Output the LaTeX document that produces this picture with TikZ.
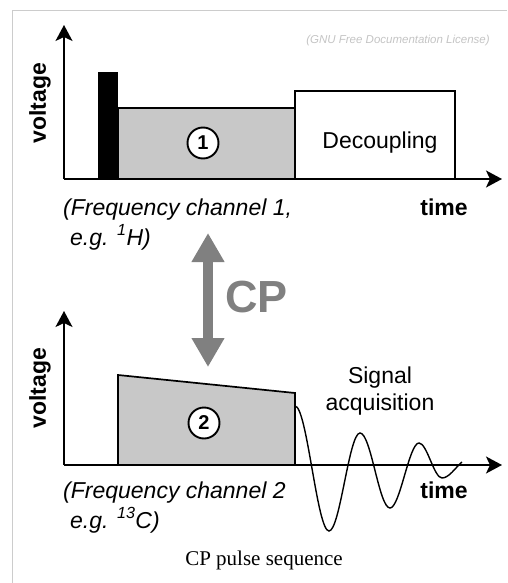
\documentclass[tikz,border=0pt]{standalone}
\usepackage{fontspec}
\setmainfont{Liberation Serif}
\setsansfont{Liberation Sans}
\usepackage{xcolor}
\definecolor{CPgray}{HTML}{808080}
\definecolor{CPfill}{HTML}{C8C8C8}
\definecolor{CPframe}{HTML}{CCCCCC}
\definecolor{CPnote}{HTML}{C4C4C4}
\usepackage{tikz}
\usetikzlibrary{positioning,arrows.meta}

\begin{document}
\begin{tikzpicture}[
  x=1pt, y=-1pt,
  axis/.style={-{Stealth[length=16pt,width=17pt,inset=4pt]}, line width=1.7pt},
  pulse/.style={draw=black, line width=1.7pt},
  lbl/.style={font=\sffamily\fontsize{23}{28}\selectfont, inner sep=0pt},
  bold/.style={font=\sffamily\bfseries\fontsize{23}{28}\selectfont, inner sep=0pt},
  chan/.style={font=\sffamily\itshape\fontsize{23}{28}\selectfont, inner sep=0pt, anchor=base west},
  num/.style={circle, draw, line width=1.9pt, fill=white, minimum size=31pt, inner sep=0pt,
    font=\sffamily\bfseries\fontsize{20}{20}\selectfont},
  cparrow/.style={{Triangle[length=29pt,width=31pt]}-{Triangle[length=29pt,width=31pt]},
    line width=10pt, draw=CPgray},
  note/.style={font=\sffamily\itshape\fontsize{11.5}{12}\selectfont, text=CPnote, inner sep=0pt}
]
\useasboundingbox (0,0) rectangle (507,583);
\draw[CPframe, line width=1pt] (12.5,583) |- (507,10.5);

\coordinate (oA) at (64,179);
\coordinate (yA) at (64,25);
\coordinate (xA) at (502,179);
\coordinate (oB) at (64,465);
\coordinate (yB) at (64,311);
\coordinate (xB) at (502,465);
\coordinate (cpTop) at (208,233);
\coordinate (cpBot) at (208,367);

\fill[black] (98,72) rectangle (118,179);
\draw[pulse, fill=CPfill] (118,108) rectangle (295,179);
\draw[pulse, fill=white] (295,91) rectangle (455,179);
\draw[pulse, fill=CPfill] (118,465) -- (118,375) -- (295,393) -- (295,465);
\draw[line width=1.4pt] (295,406) .. controls (307,406) and (317,531) .. (329,531)
  .. controls (340,531) and (349,433) .. (360,433)
  .. controls (371,433) and (379,508) .. (390,508)
  .. controls (400,508) and (409,443) .. (419,443)
  .. controls (427,443) and (434,478) .. (442,478)
  .. controls (449,478) and (455,468) .. (462,462);

\draw[axis] (oA) -- (yA);
\draw[axis] (oA) -- (xA);
\draw[axis] (oB) -- (yB);
\draw[axis] (oB) -- (xB);
\draw[cparrow] (cpTop) -- (cpBot);

\node[num] (n1) at (203,143) {1};
\node[num] (n2) at (204,423) {2};
\node[lbl, anchor=base] (dec) at (380,148) {Decoupling};
\node[lbl, anchor=base] (sig) at (380,383) {Signal};
\node[lbl, anchor=base] (acq) at (380,410) {acquisition};
\node[bold, rotate=90] (voltA) at (40,103) {voltage};
\node[bold, rotate=90] (voltB) at (40,388) {voltage};
\node[bold, anchor=base] (timeA) at (444,215) {time};
\node[bold, anchor=base] (timeB) at (444,498) {time};
\node[chan] (chA) at (63,215) {(Frequency channel 1,};
\node[chan] (egA) at (70,245) {e.g. \textsuperscript{1}H)};
\node[chan] (chB) at (63,498) {(Frequency channel 2};
\node[chan] (egB) at (70,528) {e.g. \textsuperscript{13}C)};
\node[font=\sffamily\bfseries\fontsize{45}{45}\selectfont, text=CPgray, inner sep=0pt, anchor=west] (cp) at (225,297) {CP};
\node[note] (gnu) at (398,41) {(GNU Free Documentation License)};
\node[font=\fontsize{21}{21}\selectfont, inner sep=0pt, anchor=base] (cap) at (264,565) {CP pulse sequence};
\end{tikzpicture}
\end{document}
